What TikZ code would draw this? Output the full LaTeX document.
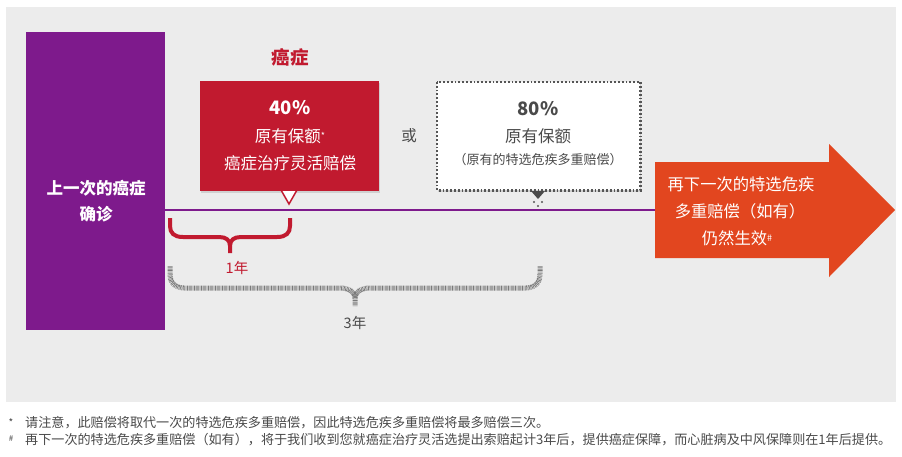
\documentclass[tikz,border=0pt]{standalone}
\usepackage{fontspec}
\setmainfont{Noto Sans CJK SC}
\usetikzlibrary{shadows}
\definecolor{bgpanel}{HTML}{ECECEC}
\definecolor{purp}{HTML}{7E1A8C}
\definecolor{redc}{HTML}{C11A2F}
\definecolor{orangec}{HTML}{E2461F}
\definecolor{darktxt}{HTML}{4A4A4A}
\definecolor{hatch}{HTML}{7A7A7A}
\definecolor{dotc}{HTML}{555555}
\tikzset{
  txt/.style={inner sep=0pt, anchor=center},
  whitetxt/.style={txt, text=white},
  redbrace/.style={draw=redc, line width=4pt},
  graybrace/.style={draw=hatch, line width=5pt, dash pattern=on 0.7pt off 0.7pt},
  boxshadow/.style={drop shadow={opacity=0.25, shadow xshift=1pt, shadow yshift=-1.5pt}},
}
\newcommand{\fs}[1]{\fontsize{#1}{#1}\selectfont}
\begin{document}
\begin{tikzpicture}[x=1pt,y=-1pt]
\useasboundingbox (0,0) rectangle (902,456);
\fill[white] (0,0) rectangle (902,456);
% panel
\fill[bgpanel] (6,7) rectangle (896,402);
% purple box
\node[fill=purp, minimum width=139pt, minimum height=298pt, inner sep=0pt, anchor=north west] (prev) at (26,32) {};
\node[whitetxt, font=\fs{16.5}\bfseries] (prev1) at (96,188) {上一次的癌症};
\node[whitetxt, font=\fs{16.5}\bfseries] (prev2) at (96,214) {确诊};
% timeline
\coordinate (lineA) at (165,210);
\coordinate (lineB) at (656,210);
\draw[purp, line width=1.8pt] (lineA) -- (lineB);
% title
\node[txt, text=redc, font=\fs{18.5}\bfseries] (title) at (290,57) {癌症};
% red box
\node[fill=redc, minimum width=179pt, minimum height=110pt, inner sep=0pt, anchor=north west, boxshadow] (redbox) at (200,81) {};
\fill[white, draw=redc, line width=1.5pt] (281,190) -- (297,190) -- (289,204) -- cycle;
\node[whitetxt, font=\fs{18.5}\bfseries] (r1) at (290,108) {40\%};
\node[whitetxt, font=\fs{16.5}] (r2) at (290,136) {原有保额\raisebox{3pt}{\fs{9}*}};
\node[whitetxt, font=\fs{16.5}] (r3) at (290,163) {癌症治疗灵活赔偿};
% or
\node[txt, text=darktxt, font=\fs{15.5}] (or) at (409,136) {或};
% dotted box
\node[fill=white, minimum width=203pt, minimum height=108pt, inner sep=0pt, anchor=north west, boxshadow] (wbox) at (437,82) {};
\draw[dotc, line width=2.6pt, dash pattern=on 1.8pt off 2.0pt] (wbox.north west) rectangle (wbox.south east);
\fill[darktxt] (531,191) -- (545,191) -- (538,199) -- cycle;
\fill[dotc] (534,202) circle (1.2pt) (542,202) circle (1.2pt) (538,206) circle (1.2pt);
\node[txt, text=darktxt, font=\fs{18.5}\bfseries] (w1) at (538,109) {80\%};
\node[txt, text=darktxt, font=\fs{16.5}] (w2) at (538,136) {原有保额};
\node[txt, text=darktxt, font=\fs{13}] (w3) at (538,160) {（原有的特选危疾多重赔偿）};
% orange arrow
\fill[orangec] (655,162) -- (829,162) -- (829,144) -- (895,210) -- (829,277) -- (829,258) -- (655,258) -- cycle;
\node[whitetxt, font=\fs{16.3}] (a1) at (741,184) {再下一次的特选危疾};
\node[whitetxt, font=\fs{16.3}] (a2) at (740,211) {多重赔偿（如有）};
\node[whitetxt, font=\fs{16.3}] (a3) at (737,238) {仍然生效\raisebox{3pt}{\fs{9}\#}};
% red brace
\draw[redbrace] (170,218) -- (170,226) .. controls (170,233) and (174,237) .. (183,237) -- (219,237) .. controls (226,237) and (230,240) .. (230,246) -- (230,253);
\draw[redbrace] (290,218) -- (290,226) .. controls (290,233) and (286,237) .. (277,237) -- (241,237) .. controls (234,237) and (230,240) .. (230,246);
\node[txt, text=redc, font=\fs{14.5}] (y1) at (237,268) {1年};
% gray brace
\draw[graybrace] (170,266) -- (170,274) .. controls (170,283) and (175,288) .. (185,288) -- (340,288) .. controls (349,288) and (355,292) .. (355,298) -- (355,306);
\draw[graybrace] (540,266) -- (540,274) .. controls (540,283) and (535,288) .. (525,288) -- (370,288) .. controls (361,288) and (355,292) .. (355,298);
\node[txt, text=darktxt, font=\fs{14.5}] (y3) at (355,323) {3年};
% footnotes
\node[txt, text=darktxt, font=\fs{10}] (s1) at (11,423) {*};
\node[txt, text=darktxt, font=\fs{8}] (s2) at (11,439) {\#};
\node[inner sep=0pt, anchor=west, text=darktxt, font=\fs{13.1}] (f1) at (25,423) {请注意，此赔偿将取代一次的特选危疾多重赔偿，因此特选危疾多重赔偿将最多赔偿三次。};
\node[inner sep=0pt, anchor=west, text=darktxt, font=\fs{13.1}] (f2) at (25,440) {再下一次的特选危疾多重赔偿（如有），将于我们收到您就癌症治疗灵活选提出索赔起计3年后，提供癌症保障，而心脏病及中风保障则在1年后提供。};
\end{tikzpicture}
\end{document}
